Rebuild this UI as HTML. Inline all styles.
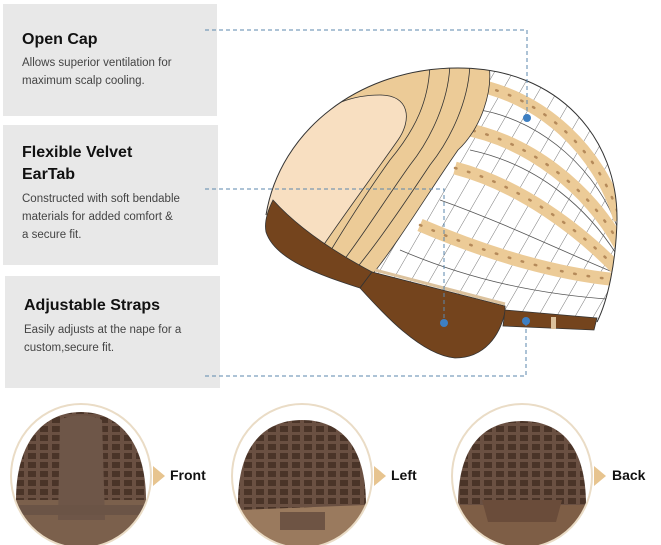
<!DOCTYPE html>
<html><head><meta charset="utf-8"><style>
body{margin:0;width:661px;height:545px;background:#fff;overflow:hidden;position:relative;font-family:"Liberation Sans",sans-serif}
.box{position:absolute;background:#e8e8e8}
.t{position:absolute;left:19px;font-weight:bold;font-size:16px;color:#111;line-height:22px}
.d{position:absolute;left:19px;font-size:11.5px;color:#444;line-height:18px}
.lbl{position:absolute;font-weight:bold;font-size:14px;color:#111}
</style></head><body>
<div class="box" style="left:3px;top:4px;width:214px;height:112px">
 <div class="t" style="top:25px">Open Cap</div>
 <div class="d" style="top:50px">Allows superior ventilation for<br>maximum scalp cooling.</div>
</div>
<div class="box" style="left:3px;top:125px;width:215px;height:140px">
 <div class="t" style="top:17px">Flexible Velvet<br>EarTab</div>
 <div class="d" style="top:65px">Constructed with soft bendable<br>materials for added comfort &amp;<br>a secure fit.</div>
</div>
<div class="box" style="left:5px;top:276px;width:215px;height:112px">
 <div class="t" style="top:19px">Adjustable Straps</div>
 <div class="d" style="top:45px">Easily adjusts at the nape for a<br>custom,secure fit.</div>
</div>
<svg width="661" height="545" style="position:absolute;left:0;top:0">
<defs>
 <clipPath id="dome"><path d="M266,215 C280,130 360,68 458,68 C560,68 618,140 617,220 C616,262 608,300 597,322 L505,310 L372,272 Z"/></clipPath>
 <pattern id="mesh" width="16" height="16" patternUnits="userSpaceOnUse" patternTransform="rotate(30)">
  <rect width="16" height="16" fill="#fff"/><line x1="0" y1="0" x2="0" y2="16" stroke="#555" stroke-width="0.8"/>
 </pattern>
 <pattern id="lat" width="12" height="9" patternUnits="userSpaceOnUse">
  <rect width="12" height="9" fill="#4a3428"/><rect x="0" y="0" width="4" height="9" fill="#6a5042"/><rect x="0" y="0" width="12" height="3" fill="#6a5042"/>
 </pattern>
 <clipPath id="c1"><ellipse cx="81" cy="476" rx="70" ry="72"/></clipPath>
 <clipPath id="c2"><ellipse cx="302" cy="476" rx="70" ry="72"/></clipPath>
 <clipPath id="c3"><ellipse cx="522" cy="476" rx="70" ry="72"/></clipPath>
</defs>
<g clip-path="url(#dome)">
 <rect x="260" y="60" width="370" height="280" fill="url(#mesh)"/>
 <g fill="none" stroke="#555" stroke-width="0.8">
  <path d="M480,110 C540,120 600,170 620,235"/>
  <path d="M470,150 C540,165 590,210 620,260"/>
  <path d="M440,200 C510,225 570,255 620,275"/>
  <path d="M400,250 C470,280 540,295 620,300"/>
 </g>
 <g fill="none" stroke="#eccb97" stroke-width="13" stroke-linecap="butt">
  <path d="M470,84 C540,95 600,150 620,220"/>
  <path d="M460,128 C530,140 590,190 620,245"/>
  <path d="M455,168 C520,185 580,230 620,272"/>
  <path d="M420,225 C490,255 560,275 620,280"/>
 </g>
 <g fill="none" stroke="#b58a5a" stroke-width="2.5" stroke-dasharray="1.5 12" stroke-linecap="round">
  <path d="M470,84 C540,95 600,150 620,220"/>
  <path d="M460,128 C530,140 590,190 620,245"/>
  <path d="M455,168 C520,185 580,230 620,272"/>
  <path d="M420,225 C490,255 560,275 620,280"/>
 </g>
 <path d="M250,60 L488,60 C495,90 480,130 458,150 C430,190 400,240 372,275 L250,260 Z" fill="#eccb97" stroke="#333" stroke-width="0.8"/>
 <path d="M250,60 L470,60 C470,100 450,140 430,165 C410,195 380,240 355,270" fill="none" stroke="#333" stroke-width="0.8"/>
 <path d="M250,60 L450,60 C450,100 430,140 410,165 C385,200 360,240 340,265" fill="none" stroke="#333" stroke-width="0.8"/>
 <path d="M250,60 L430,60 C430,100 415,130 390,160 C365,195 340,235 325,260" fill="none" stroke="#333" stroke-width="0.8"/>
 <path d="M260,230 C275,140 320,95 380,95 C410,95 412,120 398,140 C370,180 340,220 312,262 Z" fill="#f8dfc1" stroke="#333" stroke-width="0.8"/>
</g>
<path d="M266,215 C280,130 360,68 458,68 C560,68 618,140 617,220 C616,262 608,300 597,322" fill="none" stroke="#333" stroke-width="1"/>
<path d="M273,200 C300,230 340,255 372,272 L360,288 C320,275 275,260 266,232 C264,222 268,210 273,200 Z" fill="#74441d" stroke="#333" stroke-width="0.8"/>
<path d="M372,272 L505,306 L505,312 C500,335 485,358 455,358 C420,355 380,310 360,288 Z" fill="#74441d" stroke="#333" stroke-width="0.8"/>
<path d="M505,310 L597,318 L594,330 L503,326 Z" fill="#74441d" stroke="#333" stroke-width="0.8"/>
<rect x="551" y="317" width="5" height="12" fill="#dcc29d"/>
<path d="M375,270 L505,304" stroke="#dcc29d" stroke-width="3"/>
<g stroke="#5b87ad" stroke-width="1" stroke-dasharray="4 3" fill="none">
 <path d="M205,30 L527,30 L527,118"/>
 <path d="M205,189 L444,189 L444,323"/>
 <path d="M205,376 L526,376 L526,321"/>
</g>
<g fill="#3d7fc2"><circle cx="527" cy="118" r="4"/><circle cx="444" cy="323" r="4"/><circle cx="526" cy="321" r="4"/></g>

<g clip-path="url(#c1)"><rect x="0" y="400" width="170" height="145" fill="#fff"/>
 <rect x="12" y="500" width="140" height="50" fill="#7b604c"/>
 <path d="M16,500 C16,440 45,412 81,412 C117,412 146,440 146,500 Z" fill="url(#lat)"/>
 <path d="M60,420 C70,414 92,414 102,420 L105,520 L58,520 Z" fill="#6e5648"/>
 <rect x="12" y="505" width="140" height="10" fill="#6b5446"/></g>
<ellipse cx="81" cy="476" rx="70" ry="72" fill="none" stroke="#eadcc6" stroke-width="2"/>

<g clip-path="url(#c2)"><rect x="225" y="400" width="160" height="145" fill="#fff"/>
 <rect x="234" y="505" width="136" height="45" fill="#9a7a5e"/>
 <path d="M238,510 C236,445 265,420 302,420 C340,420 366,445 366,505 Z" fill="url(#lat)"/>
 <rect x="280" y="512" width="45" height="18" fill="#6e5444"/></g>
<ellipse cx="302" cy="476" rx="70" ry="72" fill="none" stroke="#eadcc6" stroke-width="2"/>

<g clip-path="url(#c3)"><rect x="445" y="400" width="160" height="145" fill="#fff"/>
 <rect x="456" y="505" width="132" height="45" fill="#7e5e46"/>
 <path d="M458,505 C458,445 485,421 522,421 C560,421 586,445 586,505 Z" fill="url(#lat)"/>
 <path d="M482,500 L562,500 L556,522 L488,522 Z" fill="#6a4c3a"/></g>
<ellipse cx="522" cy="476" rx="70" ry="72" fill="none" stroke="#eadcc6" stroke-width="2"/>
<g fill="#e7c48f"><path d="M153,466 L165,476 L153,486 Z"/><path d="M374,466 L386,476 L374,486 Z"/><path d="M594,466 L606,476 L594,486 Z"/></g>
</svg>
<div class="lbl" style="left:170px;top:467px">Front</div>
<div class="lbl" style="left:391px;top:467px">Left</div>
<div class="lbl" style="left:612px;top:467px">Back</div>
</body></html>
